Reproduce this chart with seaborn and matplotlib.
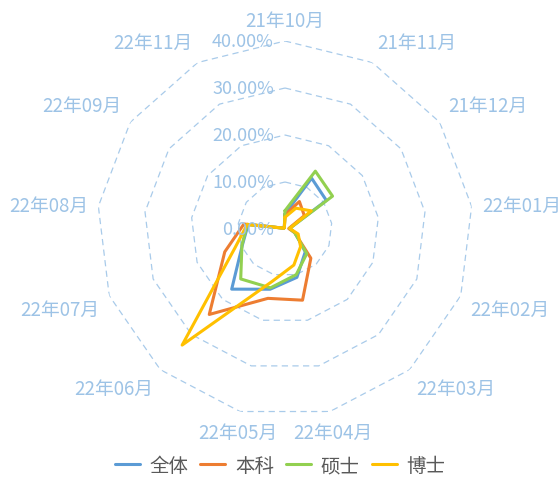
import numpy as np
import pandas as pd
import matplotlib
matplotlib.use("Agg")
import matplotlib.pyplot as plt
from matplotlib.transforms import offset_copy
import seaborn as sns

months = ['21年10月', '21年11月', '21年12月', '22年01月', '22年02月', '22年03月', '22年04月',
          '22年05月', '22年06月', '22年07月', '22年08月', '22年09月', '22年11月']
series_names = ['全体', '本科', '硕士', '博士']

# values in percent
all_vals = [3.2, 12.2, 10.7, 1.0, 2.3, 6.5, 10.6, 13.2, 17.1, 9.7, 7.9, 0.3, 0.3]
ug_vals = [3.0, 6.6, 5.0, 0.8, 2.2, 8.3, 15.6, 15.2, 24.3, 13.7, 8.8, 0.3, 0.3]
master_vals = [3.9, 13.9, 12.3, 1.0, 2.2, 7.0, 10.0, 12.9, 14.2, 9.8, 8.1, 0.3, 0.3]
phd_vals = [2.5, 5.0, 6.8, 1.0, 3.0, 5.0, 7.9, 11.5, 33.0, 11.4, 8.1, 0.3, 0.3]

colors = ['#5B9BD5', '#ED7D31', '#92D050', '#FFC000']
grid_color = '#A9CBEA'
label_color = '#9DC3E6'

sns.set_theme(style='white')
plt.rcParams['font.family'] = ['Noto Sans CJK SC', 'DejaVu Sans']

n = len(months)
angles = np.arange(n) * 2 * np.pi / n

rows = []
for name, vals in zip(series_names, [all_vals, ug_vals, master_vals, phd_vals]):
    for i in range(n + 1):
        rows.append({'theta': 2 * np.pi * i / n, 'value': vals[i % n], 'series': name})
df = pd.DataFrame(rows)

fig = plt.figure(figsize=(5.6, 4.81), dpi=100)
ax = fig.add_axes([0.1732, 0.1310, 0.6714, 0.7817], projection='polar')
ax.set_theta_offset(np.pi / 2)
ax.set_theta_direction(-1)

# polygon grid rings
ring_angles = np.append(angles, 2 * np.pi)
for r in [10, 20, 30, 40]:
    ax.plot(ring_angles, [r] * len(ring_angles), ls=(0, (5, 3.5)), color=grid_color, lw=0.9, zorder=1)

sns.lineplot(data=df, x='theta', y='value', hue='series', palette=colors, sort=False,
             estimator=None, lw=2.2, ax=ax, legend=False, zorder=3)

ax.set_ylim(0, 40)
ax.set_xticks([])
ax.set_yticks([])
ax.grid(False)
ax.spines['polar'].set_visible(False)
ax.set_xlabel('')
ax.set_ylabel('')

# radial labels
lab_tr = offset_copy(ax.transData, fig=fig, x=-11, y=0, units='dots')
for r in [0, 10, 20, 30, 40]:
    ax.text(0, r, f'{r:.2f}%', transform=lab_tr, ha='right', va='center',
            fontsize=13, color=label_color)

# category labels
for a, m in zip(angles, months):
    dx, dy = np.sin(a), np.cos(a)
    ha = 'left' if dx > 0.3 else ('right' if dx < -0.3 else 'center')
    va = 'bottom' if dy > 0.3 else ('top' if dy < -0.3 else 'center')
    ax.text(a, 42.2, m, ha=ha, va=va, fontsize=13.5, color=label_color)

handles = [plt.Line2D([], [], color=c, lw=2.2) for c in colors]
leg = fig.legend(handles, series_names, loc='center', bbox_to_anchor=(0.5, 0.03), ncol=4,
                 frameon=False, fontsize=14, handlelength=1.3, handletextpad=0.5,
                 columnspacing=0.6)
for t in leg.get_texts():
    t.set_color('#595959')

fig.savefig('out.png', dpi=100)
